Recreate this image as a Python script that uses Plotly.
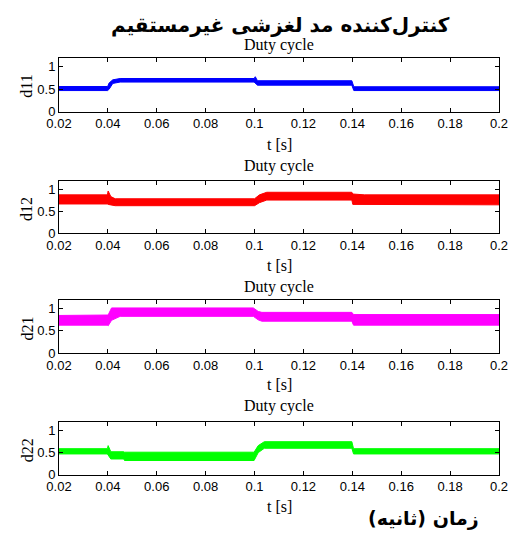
import plotly.graph_objects as go

# ---- data: time breakpoints and band envelopes ----
t_d11 = [0.02, 0.0399, 0.0405, 0.042, 0.045, 0.0998, 0.1003, 0.1012, 0.1398, 0.1406, 0.2]
d11_hi = [0.56, 0.56, 0.64, 0.71, 0.74, 0.74, 0.78, 0.69, 0.69, 0.555, 0.555]
d11_lo = [0.47, 0.47, 0.50, 0.63, 0.66, 0.66, 0.63, 0.59, 0.59, 0.47, 0.47]

t_d12 = [0.02, 0.0398, 0.0401, 0.0412, 0.043, 0.1, 0.102, 0.105, 0.1398, 0.1402, 0.145, 0.2]
d12_hi = [0.88, 0.88, 0.97, 0.84, 0.79, 0.79, 0.88, 0.94, 0.94, 0.90, 0.88, 0.88]
d12_lo = [0.67, 0.67, 0.66, 0.64, 0.63, 0.63, 0.70, 0.76, 0.76, 0.66, 0.65, 0.65]

t_d21 = [0.02, 0.0398, 0.0401, 0.0415, 0.045, 0.0995, 0.1015, 0.103, 0.1398, 0.1405, 0.2]
d21_hi = [0.85, 0.85, 0.86, 1.02, 1.02, 1.02, 0.94, 0.92, 0.92, 0.87, 0.87]
d21_lo = [0.63, 0.63, 0.615, 0.74, 0.83, 0.83, 0.75, 0.72, 0.72, 0.63, 0.63]

t_d22 = [0.02, 0.0398, 0.0401, 0.0412, 0.0465, 0.0468, 0.0998, 0.1015, 0.104, 0.1398, 0.1405, 0.2]
d22_hi = [0.59, 0.59, 0.66, 0.52, 0.52, 0.51, 0.51, 0.66, 0.75, 0.75, 0.59, 0.59]
d22_lo = [0.47, 0.47, 0.45, 0.355, 0.355, 0.32, 0.32, 0.50, 0.60, 0.60, 0.47, 0.47]

series = [
    ("d11", t_d11, d11_hi, d11_lo, "#0000ff"),
    ("d12", t_d12, d12_hi, d12_lo, "#ff0000"),
    ("d21", t_d21, d21_hi, d21_lo, "#ff00ff"),
    ("d22", t_d22, d22_hi, d22_lo, "#00ff00"),
]

x_ticks = [0.02, 0.04, 0.06, 0.08, 0.1, 0.12, 0.14, 0.16, 0.18, 0.2]
x_ticklabels = ["0.02", "0.04", "0.06", "0.08", "0.1", "0.12", "0.14", "0.16", "0.18", "0.2"]
y_ticks = [0, 0.5, 1]
y_ticklabels = ["0", "0.5", "1"]

main_title = "کنترل\u200cکننده مد لغزشی غیرمستقیم"
bottom_label = "زمان (ثانیه)"
sub_title = "Duty cycle"
x_label = "t [s]"

# ---- layout geometry (pixels in a 509x534 page) ----
W, H = 509, 534
x_left, x_right = 59, 499
plot_tops = [58, 181, 300, 422]
plot_bottoms = [111.5, 233, 353, 474.5]
title_y = [44.5, 166, 287, 406]
xlab_y = [144, 265, 384, 506]

def py(p):
    return 1 - p / H

fig = go.Figure()
annotations = []
serif = "Liberation Serif"
sans = "Liberation Sans"

for i, (name, t, hi, lo, col) in enumerate(series):
    k = "" if i == 0 else str(i + 1)
    xs = list(t) + list(reversed(t))
    ys = list(hi) + list(reversed(lo))
    fig.add_trace(go.Scatter(
        x=xs, y=ys, fill="toself", fillcolor=col, mode="lines",
        line=dict(color=col, width=1), xaxis="x" + k, yaxis="y" + k,
        showlegend=False, hoverinfo="skip"))
    dom_y = [py(plot_bottoms[i]), py(plot_tops[i])]
    fig.update_layout(**{
        "xaxis" + k: dict(
            domain=[x_left / W, x_right / W], range=[0.02, 0.2], anchor="y" + k,
            tickmode="array", tickvals=x_ticks, ticktext=x_ticklabels,
            ticks="inside", ticklen=4, tickcolor="black", tickwidth=1,
            showline=True, linecolor="black", linewidth=1, mirror="ticks",
            showgrid=False, zeroline=False, automargin=False,
            tickfont=dict(family=sans, size=13, color="black")),
        "yaxis" + k: dict(
            domain=dom_y, range=[0, 1.2], anchor="x" + k,
            tickmode="array", tickvals=y_ticks, ticktext=y_ticklabels,
            ticks="inside", ticklen=4, tickcolor="black", tickwidth=1,
            showline=True, linecolor="black", linewidth=1, mirror="ticks",
            showgrid=False, zeroline=False, automargin=False,
            tickfont=dict(family=sans, size=13, color="black")),
    })
    cx = (x_left + x_right) / 2 / W
    annotations.append(dict(text=sub_title, x=cx, y=py(title_y[i]), xref="paper", yref="paper",
                            xanchor="center", yanchor="middle", showarrow=False,
                            font=dict(family=serif, size=16, color="black")))
    annotations.append(dict(text=x_label, x=cx, y=py(xlab_y[i]), xref="paper", yref="paper",
                            xanchor="center", yanchor="middle", showarrow=False,
                            font=dict(family=serif, size=16, color="black")))
    annotations.append(dict(text=name, x=27 / W, y=py((plot_tops[i] + plot_bottoms[i]) / 2 + 2),
                            xref="paper", yref="paper", textangle=-90,
                            xanchor="center", yanchor="middle", showarrow=False,
                            font=dict(family=serif, size=16, color="black")))

annotations.append(dict(text="<b>" + main_title + "</b>", x=280 / W, y=py(25), xref="paper", yref="paper",
                        xanchor="center", yanchor="middle", showarrow=False,
                        font=dict(family="DejaVu Sans", size=20, color="black")))
annotations.append(dict(text="<b>" + bottom_label + "</b>", x=423 / W, y=py(518), xref="paper", yref="paper",
                        xanchor="center", yanchor="middle", showarrow=False,
                        font=dict(family="DejaVu Sans", size=19, color="black")))

fig.update_layout(width=W, height=H, margin=dict(l=0, r=0, t=0, b=0, autoexpand=False),
                  paper_bgcolor="white", plot_bgcolor="white",
                  annotations=annotations)

fig.write_html("out.html", config={"displayModeBar": False},
               post_script="document.body.style.margin='0px';document.body.style.overflow='hidden';")
